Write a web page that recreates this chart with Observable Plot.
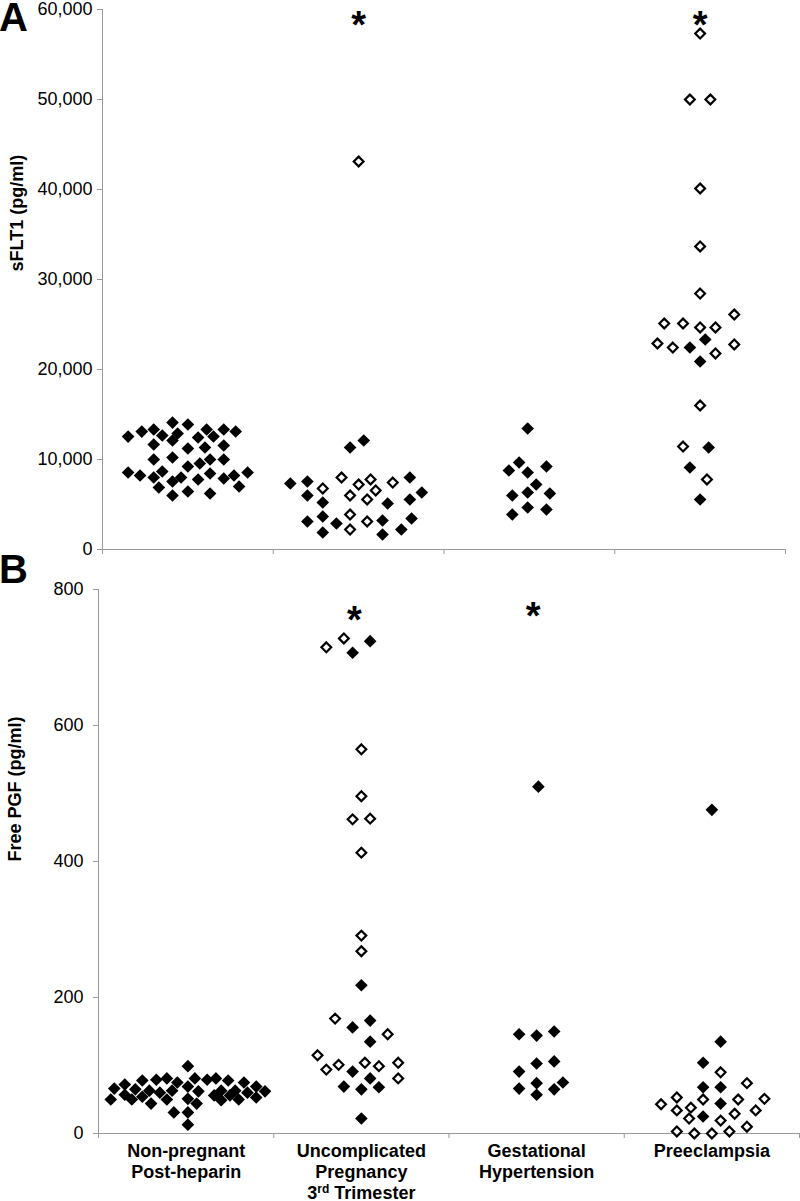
<!DOCTYPE html>
<html><head><meta charset="utf-8">
<script src="https://cdn.jsdelivr.net/npm/d3@7"></script>
<script src="https://cdn.jsdelivr.net/npm/@observablehq/plot@0.6"></script>
<style>
body{margin:0;background:#fff;font-family:"Liberation Sans",Arial,sans-serif;}
#wrap{position:relative;width:800px;height:1201px;overflow:hidden;background:#fff;}
#wrap svg{position:absolute;left:0;z-index:1;}
.tag{position:absolute;font-weight:bold;font-size:40px;line-height:34px;z-index:2;color:#000;}
</style></head><body>
<div id="wrap">
<div class="tag" style="left:-1px;top:0px">A</div>
<div class="tag" style="left:-1px;top:552px">B</div>
</div>
<script>
const categories = ["Non-pregnant\nPost-heparin", "Uncomplicated\nPregnancy\n3rd Trimester", "Gestational\nHypertension", "Preeclampsia"];
const sflt1Ticks = [0, 10000, 20000, 30000, 40000, 50000, 60000];
const pgfTicks = [0, 200, 400, 600, 800];
const sflt1Label = "sFLT1 (pg/ml)";
const pgfLabel = "Free PGF (pg/ml)";

// [group index, horizontal jitter (category units), value, hollow (1) / filled (0)]
const sflt1Points = [
  [0,-0.35,12550,0],[0,-0.27,13100,0],[0,-0.20,13330,0],[0,-0.15,12670,0],[0,-0.09,14100,0],[0,-0.06,12890,0],[0,0.00,13890,0],[0,0.06,12440,0],[0,0.11,13330,0],[0,0.15,12560,0],[0,0.21,13330,0],[0,0.28,13110,0],
  [0,-0.20,11670,0],[0,-0.09,12110,0],[0,0.00,11220,0],[0,0.10,11330,0],[0,0.21,11560,0],
  [0,-0.20,10000,0],[0,-0.09,10220,0],[0,0.00,9220,0],[0,0.07,9560,0],[0,0.13,10000,0],[0,0.21,10000,0],
  [0,-0.35,8560,0],[0,-0.28,8220,0],[0,-0.20,8000,0],[0,-0.15,8670,0],[0,-0.09,7560,0],[0,-0.04,8000,0],[0,0.06,7780,0],[0,0.13,8440,0],[0,0.21,7890,0],[0,0.27,8220,0],[0,0.35,8560,0],
  [0,-0.17,6890,0],[0,-0.09,6000,0],[0,0.00,6440,0],[0,0.13,6220,0],[0,0.30,7000,0],
  [1,-0.40,7330,0],[1,-0.30,7560,0],[1,-0.30,6000,0],[1,-0.21,5220,0],[1,-0.30,3110,0],[1,-0.21,3670,0],[1,-0.13,2890,0],[1,-0.21,1890,0],[1,-0.05,11330,0],[1,0.03,12110,0],[1,0.17,5110,0],[1,0.14,3220,0],[1,0.14,1670,0],[1,0.25,2220,0],[1,0.30,8000,0],[1,0.37,6330,0],[1,0.30,5560,0],[1,0.31,3440,0],
  [1,-0.21,6780,1],[1,-0.10,8000,1],[1,-0.05,6000,1],[1,0.00,7220,1],[1,0.07,7780,1],[1,0.10,6560,1],[1,0.05,5560,1],[1,0.20,7440,1],[1,-0.05,3890,1],[1,-0.05,2220,1],[1,0.05,3110,1],[1,0.00,43110,1],
  [2,-0.01,13440,0],[2,-0.06,9670,0],[2,-0.12,8780,0],[2,-0.01,8560,0],[2,0.10,9220,0],[2,0.04,7220,0],[2,-0.10,6000,0],[2,-0.01,6330,0],[2,0.12,6220,0],[2,-0.10,3890,0],[2,-0.01,4670,0],[2,0.10,4440,0],
  [3,0.00,57330,1],[3,-0.06,50000,1],[3,0.06,50000,1],[3,0.00,40110,1],[3,0.00,33670,1],[3,0.00,28440,1],[3,-0.21,25110,1],[3,-0.10,25110,1],[3,0.00,24670,1],[3,0.09,24670,1],[3,0.20,26110,1],[3,-0.25,22890,1],[3,-0.16,22440,1],[3,0.09,21780,1],[3,0.20,22780,1],[3,0.00,16000,1],[3,-0.10,11440,1],[3,0.04,7780,1],
  [3,-0.06,22440,0],[3,0.03,23330,0],[3,0.00,20890,0],[3,0.05,11330,0],[3,-0.06,9110,0],[3,0.00,5560,0]
];

const pgfPoints = [
  [0,-0.43,50,0],[0,-0.41,66,0],[0,-0.35,72,0],[0,-0.35,57,0],[0,-0.31,50,0],[0,-0.29,65,0],[0,-0.25,54,0],[0,-0.25,78,0],[0,-0.21,63,0],[0,-0.20,44,0],[0,-0.17,79,0],[0,-0.15,60,0],[0,-0.11,50,0],[0,-0.11,81,0],[0,-0.08,63,0],[0,-0.07,31,0],[0,-0.05,75,0],[0,0.01,99,0],[0,0.01,69,0],[0,0.01,51,0],[0,0.01,31,0],[0,0.01,13,0],[0,0.05,81,0],[0,0.06,44,0],[0,0.07,62,0],[0,0.12,79,0],[0,0.16,56,0],[0,0.17,81,0],[0,0.20,63,0],[0,0.20,49,0],[0,0.24,78,0],[0,0.25,56,0],[0,0.28,63,0],[0,0.30,50,0],[0,0.33,75,0],[0,0.35,60,0],[0,0.40,53,0],[0,0.40,69,0],[0,0.45,62,0],
  [1,-0.20,715,1],[1,-0.10,728,1],[1,-0.05,707,0],[1,0.05,724,0],[1,0.00,565,1],[1,0.00,496,1],[1,-0.05,462,1],[1,0.05,463,1],[1,0.00,413,1],[1,0.00,291,1],[1,0.00,268,1],[1,0.00,218,0],[1,-0.15,169,1],[1,-0.05,156,0],[1,0.05,166,0],[1,0.15,146,1],[1,0.05,135,0],[1,-0.25,115,1],[1,-0.20,94,1],[1,-0.13,101,1],[1,0.02,104,1],[1,0.10,99,1],[1,0.21,104,1],[1,-0.05,91,0],[1,0.05,81,0],[1,0.21,81,1],[1,-0.10,69,0],[1,0.00,65,0],[1,0.10,68,0],[1,0.00,22,0],
  [2,0.01,510,0],[2,-0.10,146,0],[2,0.00,144,0],[2,0.10,150,0],[2,-0.10,91,0],[2,0.00,103,0],[2,0.10,106,0],[2,-0.10,66,0],[2,0.00,74,0],[2,0.00,57,0],[2,0.10,65,0],[2,0.15,75,0],
  [3,0.00,476,0],[3,0.05,135,0],[3,-0.05,104,0],[3,0.05,90,1],[3,-0.05,68,0],[3,0.05,68,0],[3,0.20,74,1],[3,-0.29,43,1],[3,-0.20,53,1],[3,-0.12,38,1],[3,-0.05,50,1],[3,0.05,44,0],[3,0.15,50,1],[3,0.30,51,1],[3,-0.20,34,1],[3,-0.13,22,1],[3,-0.05,25,0],[3,0.05,19,1],[3,0.13,29,1],[3,0.25,34,1],[3,-0.20,3,1],[3,-0.10,0,1],[3,0.00,0,1],[3,0.10,3,1],[3,0.20,10,1]
];

// significance markers: [group index, jitter, value]
const sflt1Stars = [[1,0.00,59300],[3,0.00,59300]];
const pgfStars = [[1,-0.04,768],[2,-0.02,774]];

const AXIS = "#999";

function panel(o) {
  const rows = o.points.map(([g, j, v, h]) => ({x: g + 0.5 + j, v, hollow: h === 1}));
  const stars = o.stars.map(([g, j, v]) => ({x: g + 0.5 + j, v}));
  const marks = [
    Plot.ruleY([0], {stroke: AXIS}),
    Plot.ruleX([0], {stroke: AXIS}),
    Plot.axisY({ticks: o.ticks, tickFormat: o.fmt, tickSize: 5, tickPadding: o.tickPadding, stroke: AXIS, fontSize: 18, label: null}),
    Plot.axisX({ticks: [0, 1, 2, 3, 4], tickFormat: () => "", tickSize: 5, stroke: AXIS, label: null}),
    Plot.dot(rows.filter(d => !d.hollow), {x: "x", y: "v", symbol: "diamond2", r: 5.7, fill: "black", stroke: "none"}),
    Plot.dot(rows.filter(d => d.hollow), {x: "x", y: "v", symbol: "diamond2", r: 4.4, fill: "white", stroke: "black", strokeWidth: 2.2}),
    Plot.text(stars, {x: "x", y: "v", text: () => "*", fontSize: 38, fontWeight: "bold", dy: 10, fill: "black"}),
    Plot.text([o.label], {frameAnchor: "left", rotate: -90, dx: o.labelDx, dy: o.labelDy, fontWeight: "bold", fontSize: 18, fill: "black"})
  ];
  if (o.showCategories) {
    marks.push(Plot.text(categories, {x: (d, i) => i + 0.5, frameAnchor: "bottom", lineAnchor: "top", dy: 9, fontWeight: "bold", fontSize: 18, lineHeight: 1.15, fill: "black"}));
  }
  const svg = Plot.plot({
    width: 800, height: o.height,
    marginTop: o.marginTop, marginBottom: o.marginBottom, marginLeft: o.marginLeft, marginRight: o.marginRight,
    style: {fontFamily: "'Liberation Sans', Arial, sans-serif", background: "transparent", color: "black"},
    x: {domain: [0, 4], label: null},
    y: {domain: [o.ticks[0], o.ticks[o.ticks.length - 1]], label: null},
    marks
  });
  svg.style.top = o.top + "px";
  return svg;
}

const wrap = document.getElementById("wrap");
wrap.appendChild(panel({
  points: sflt1Points, stars: sflt1Stars, ticks: sflt1Ticks, fmt: d3.format(","),
  label: sflt1Label, labelDx: -85, labelDy: -8, tickPadding: 5,
  height: 570, top: 0, marginTop: 9, marginBottom: 21, marginLeft: 102, marginRight: 15,
  showCategories: false
}));
const b = panel({
  points: pgfPoints, stars: pgfStars, ticks: pgfTicks, fmt: d3.format("d"),
  label: pgfLabel, labelDx: -83, labelDy: 0, tickPadding: 10,
  height: 631, top: 570, marginTop: 19, marginBottom: 68, marginLeft: 98, marginRight: 1,
  showCategories: true
});
wrap.appendChild(b);
// superscript "rd" in "3rd Trimester"
d3.select(b).selectAll("tspan").filter(function() { return this.textContent === "3rd Trimester"; })
  .each(function() {
    const t = d3.select(this);
    t.text("3");
    t.append("tspan").attr("dy", "-6").style("font-size", "12px").text("rd");
    t.append("tspan").attr("dy", "6").style("font-size", "18px").text(" Trimester");
  });
</script>
</body></html>
